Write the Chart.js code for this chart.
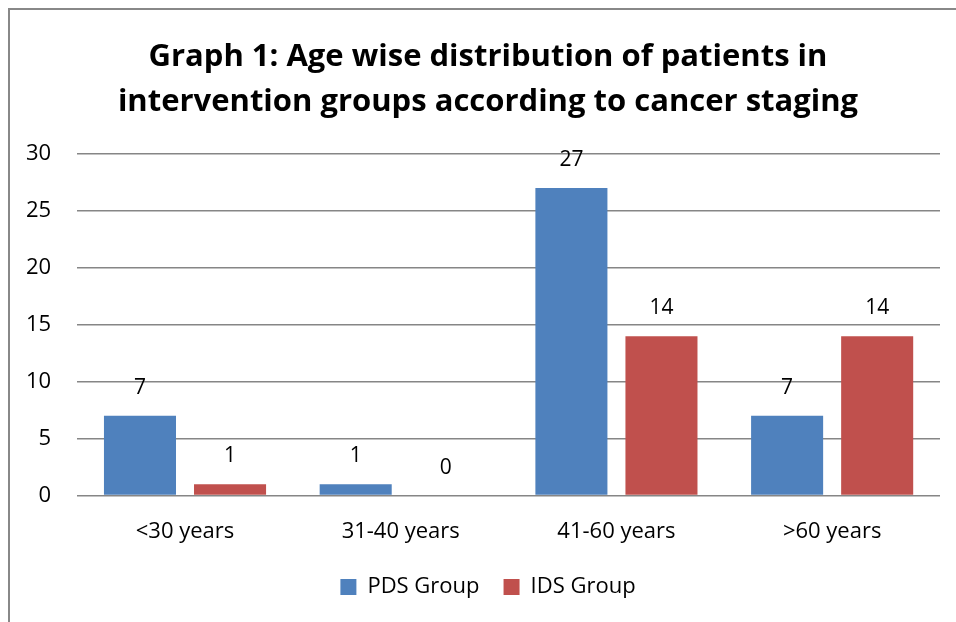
<!DOCTYPE html>
<html>
<head>
<meta charset="utf-8">
<script src="https://cdn.jsdelivr.net/npm/chart.js@4"></script>
<style>
  body { margin: 0; background: #fff; }
  #wrap { position: absolute; left: 0; top: 0; width: 956px; height: 622px; }
</style>
</head>
<body>
<div id="wrap"><canvas id="myChart"></canvas></div>
<script>
var categories = ["<30 years", "31-40 years", "41-60 years", ">60 years"];
var pdsValues = [7, 1, 27, 7];
var idsValues = [1, 0, 14, 14];
var yTicks = [0, 5, 10, 15, 20, 25, 30];

var fontFamily = "'Open Sans', 'Liberation Sans', sans-serif";

// frame around the chart, like the pasted picture
var framePlugin = {
  id: "frame",
  beforeDraw: function (chart) {
    var c = chart.ctx;
    c.save();
    c.strokeStyle = "#888888";
    c.lineWidth = 2;
    c.strokeRect(9, 9, chart.width + 20, chart.height + 20);
    c.restore();
  }
};

// numbers over the bars
var valueLabels = {
  id: "valueLabels",
  afterDatasetsDraw: function (chart) {
    var c = chart.ctx;
    c.save();
    c.font = "21px " + fontFamily;
    c.fillStyle = "#000";
    c.textAlign = "center";
    c.textBaseline = "middle";
    chart.data.datasets.forEach(function (ds, i) {
      chart.getDatasetMeta(i).data.forEach(function (bar, j) {
        c.fillText(ds.data[j], bar.x, bar.y - 28);
      });
    });
    c.restore();
  }
};

var ctx = document.getElementById("myChart").getContext("2d");
var myChart = new Chart(ctx, {
  type: "bar",
  data: {
    labels: categories,
    datasets: [
      {
        label: "PDS Group",
        data: pdsValues,
        backgroundColor: "#4F81BD",
        categoryPercentage: 0.835,
        barPercentage: 0.8
      },
      {
        label: "IDS Group",
        data: idsValues,
        backgroundColor: "#C0504D",
        categoryPercentage: 0.835,
        barPercentage: 0.8
      }
    ]
  },
  options: {
    responsive: true,
    maintainAspectRatio: false,
    animation: false,
    layout: { padding: { left: 20, right: 0, top: 35, bottom: 14 } },
    plugins: {
      title: {
        display: true,
        text: ["Graph 1: Age wise distribution of patients in", "intervention groups according to cancer staging"],
        color: "#000",
        font: { family: fontFamily, size: 31, weight: "bold", lineHeight: 1.45 },
        padding: { top: 0, bottom: 29 }
      },
      legend: {
        position: "bottom",
        labels: {
          color: "#000",
          boxWidth: 16,
          boxHeight: 16,
          padding: 24,
          font: { family: fontFamily, size: 22 }
        }
      },
      tooltip: { enabled: false }
    },
    scales: {
      x: {
        grid: { display: false, drawTicks: false },
        border: { display: false },
        ticks: { color: "#000", padding: 23, font: { family: fontFamily, size: 22 } },
        afterFit: function (axis) { axis.height -= 16; }
      },
      y: {
        min: 0,
        max: 30,
        afterBuildTicks: function (axis) {
          axis.ticks = yTicks.map(function (v) { return { value: v }; });
        },
        grid: { color: "#868686", lineWidth: 1.5, drawTicks: false },
        border: { display: false },
        ticks: { color: "#000", padding: 26, font: { family: fontFamily, size: 22 } },
        afterFit: function (axis) { axis.width -= 20; }
      },
      yRight: {
        position: "right",
        display: true,
        grid: { display: false, drawTicks: false },
        border: { display: false },
        ticks: { display: false },
        afterFit: function (axis) { axis.width = 16; }
      }
    }
  },
  plugins: [framePlugin, valueLabels]
});
</script>
</body>
</html>
